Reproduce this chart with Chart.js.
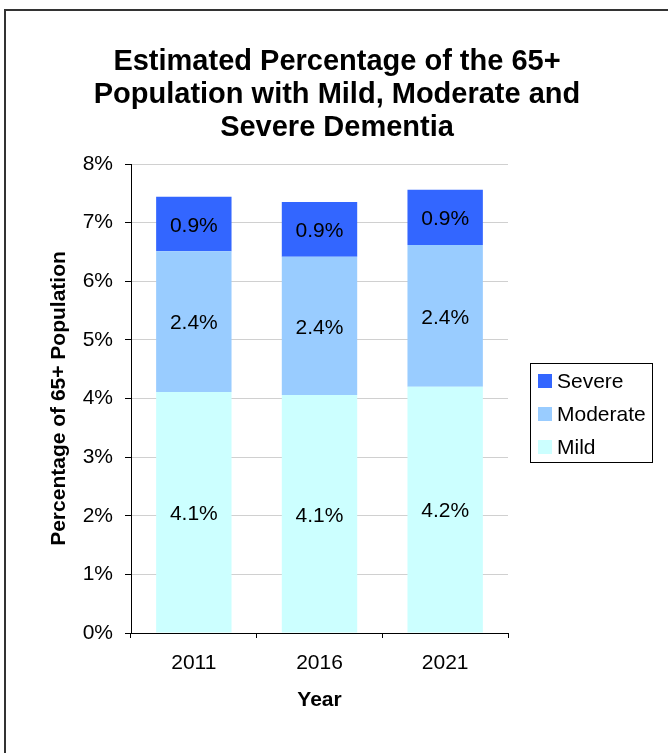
<!DOCTYPE html>
<html>
<head>
<meta charset="utf-8">
<script src="https://cdn.jsdelivr.net/npm/chart.js@4.4.1/dist/chart.umd.min.js"></script>
<style>
  html, body { margin: 0; padding: 0; background: #fff; }
  #wrap { position: relative; width: 668px; height: 753px; overflow: hidden; }
  #frame { position: absolute; left: 4px; top: 9px; width: 700px; height: 800px;
           border-left: 2px solid #333; border-top: 2px solid #333; box-sizing: border-box; }
  canvas { position: absolute; left: 0; top: 0; }
</style>
</head>
<body>
<div id="wrap">
  <div id="frame"></div>
  <canvas id="c" width="668" height="753"></canvas>
</div>
<script>
const years = ['2011', '2016', '2021'];
const mild = [4.11, 4.06, 4.20];
const moderate = [2.40, 2.36, 2.42];
const severe = [0.93, 0.93, 0.94];
const yTicks = [0, 1, 2, 3, 4, 5, 6, 7, 8];
const titleLines = ['Estimated Percentage of the 65+', 'Population with Mild, Moderate and', 'Severe Dementia'];

const FONT = "'Liberation Sans', Arial, sans-serif";
Chart.defaults.font.family = FONT;
Chart.defaults.color = '#000';

const titlePlugin = {
  id: 'centerTitle',
  afterDraw(chart) {
    const ctx = chart.ctx;
    ctx.save();
    ctx.font = 'bold 29px ' + FONT;
    ctx.fillStyle = '#000';
    ctx.textAlign = 'center';
    ctx.textBaseline = 'middle';
    titleLines.forEach((t, i) => ctx.fillText(t, 337, 62 + i * 33));
    ctx.restore();
  }
};

const labelPlugin = {
  id: 'barLabels',
  afterDatasetsDraw(chart) {
    const ctx = chart.ctx;
    ctx.save();
    ctx.font = '21px ' + FONT;
    ctx.fillStyle = '#000';
    ctx.textAlign = 'center';
    ctx.textBaseline = 'middle';
    chart.data.datasets.forEach((ds, i) => {
      const meta = chart.getDatasetMeta(i);
      meta.data.forEach((bar, j) => {
        const p = bar.getCenterPoint();
        ctx.fillText(ds.data[j].toFixed(1) + '%', p.x, p.y + 2);
      });
    });
    ctx.restore();
  }
};

const legendPlugin = {
  id: 'boxLegend',
  afterDraw(chart) {
    const ctx = chart.ctx;
    ctx.save();
    const x0 = 530, y0 = 363, w = 122, h = 99;
    ctx.strokeStyle = '#000';
    ctx.lineWidth = 1;
    ctx.strokeRect(x0 + 0.5, y0 + 0.5, w, h);
    ctx.font = '21px ' + FONT;
    ctx.textBaseline = 'middle';
    ctx.textAlign = 'left';
    const items = chart.data.datasets.slice().reverse();
    items.forEach((ds, k) => {
      const cy = 381 + k * 33;
      ctx.fillStyle = ds.backgroundColor;
      ctx.fillRect(538, cy - 7, 14, 14);
      ctx.fillStyle = '#000';
      ctx.fillText(ds.label, 557, cy + 1);
    });
    ctx.restore();
  }
};

new Chart(document.getElementById('c'), {
  type: 'bar',
  data: {
    labels: years,
    datasets: [
      { label: 'Mild', data: mild, backgroundColor: '#CCFFFF' },
      { label: 'Moderate', data: moderate, backgroundColor: '#99CCFF' },
      { label: 'Severe', data: severe, backgroundColor: '#3366FF' }
    ]
  },
  options: {
    responsive: false,
    animation: false,
    devicePixelRatio: 1,
    layout: { padding: { left: 0, right: 160, top: 164, bottom: 40 } },
    plugins: {
      legend: { display: false },
      tooltip: { enabled: false },
      title: { display: false }
    },
    datasets: { bar: { barPercentage: 0.6, categoryPercentage: 1.0 } },
    scales: {
      x: {
        stacked: true,
        grid: { drawOnChartArea: false, drawTicks: true, tickLength: 5, tickColor: '#000', offset: true },
        border: { color: '#000', width: 1 },
        ticks: { font: { size: 21 }, padding: 13, color: '#000' },
        title: { display: true, text: 'Year', font: { size: 21, weight: 'bold' }, padding: { top: 8, bottom: 0 }, color: '#000' },
        afterFit(s) { s.height = 80; }
      },
      y: {
        stacked: true,
        min: 0, max: 8,
        afterBuildTicks(s) { s.ticks = yTicks.map(v => ({ value: v })); },
        grid: { color: '#D0D0D0', tickColor: '#000', tickLength: 6, lineWidth: 1 },
        border: { color: '#000', width: 1 },
        ticks: { font: { size: 21 }, padding: 12, color: '#000', callback: v => v + '%' },
        title: { display: true, text: 'Percentage of 65+ Population', font: { size: 21, weight: 'bold' }, padding: { top: 47, bottom: 14 }, color: '#000' },
        afterFit(s) { s.width = 131; }
      }
    }
  },
  plugins: [labelPlugin, legendPlugin, titlePlugin]
});
</script>
</body>
</html>
